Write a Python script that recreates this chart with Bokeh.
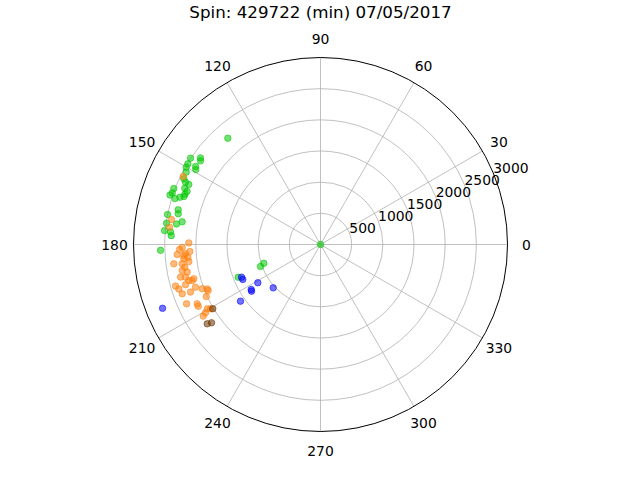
import numpy as np
from bokeh.plotting import figure
from bokeh.models import Range1d, Label
from bokeh.embed import file_html
from bokeh.resources import INLINE
from bokeh.core.properties import value

title = "Spin: 429722 (min) 07/05/2017"
angle_ticks = [0, 30, 60, 90, 120, 150, 180, 210, 240, 270, 300, 330]
radial_ticks = [500, 1000, 1500, 2000, 2500, 3000]
r_max = 3000

green_theta = [0, 131.1, 146.4, 144.2, 145.1, 148.7, 148.0, 149.0, 151.7, 150.1, 154.3, 155.2,
               155.5, 157.5, 158.3, 159.1, 160.8, 161.8, 162.5, 161.4, 160.6, 159.6, 166.3,
               167.8, 168.9, 170.7, 171.9, 172.1, 174.9, 175.2, 176.6, 182.1, 198.3, 200.1, 201.7]
green_r = [0, 2262, 2503, 2374, 2347, 2491, 2363, 2334, 2447, 2486, 2433, 2385,
           2322, 2357, 2304, 2519, 2518, 2541, 2448, 2378, 2321, 2320, 2350,
           2335, 2501, 2249, 2334, 2494, 2512, 2415, 2399, 2568, 958, 1025, 1421]

orange_theta = [153.7, 170.5, 173.5, 179.3, 182.0, 181.2, 183.1, 184.0, 183.9, 186.0, 187.4,
                187.5, 187.9, 189.5, 190.6, 191.7, 193.1, 193.6, 195.3, 195.7, 196.6, 196.0,
                198.9, 197.4, 200.5, 201.4, 200.1, 199.6, 204.5, 203.9, 205.7, 206.8, 209.6,
                210.3, 210.7, 211.4, 184.6, 185.5, 195.1, 202.3]
orange_r = [2458, 2423, 2438, 2113, 2263, 2219, 2100, 2305, 2171, 2205, 2130,
            2374, 2240, 2207, 2257, 2184, 2306, 2228, 2190, 2138, 2260, 2420,
            2119, 2382, 2026, 1952, 2221, 2355, 2014, 2350, 2195, 2197, 2090,
            2044, 2146, 2205, 2200, 2138, 2106, 1947]

blue_theta = [202.5, 204.2, 211.4, 213.0, 214.1, 222.5, 215.3, 202.0]
blue_r = [1371, 1367, 1178, 1325, 1336, 1029, 1573, 2733]

brown_theta = [210.8, 215.7, 215.0]
brown_r = [2012, 2153, 2219]

W, H = 624, 464
k = 187.0 / r_max          # pixels per data unit
cx, cy_top = 320, 244      # centre in figure pixels (from left / from top)

p = figure(width=W, height=H, output_backend="svg", toolbar_location=None,
           x_range=Range1d(-cx / k, (W - cx) / k),
           y_range=Range1d(-(H - cy_top) / k, cy_top / k),
           x_axis_location=None, y_axis_location=None, min_border=0)
p.grid.visible = False
p.outline_line_color = None
p.background_fill_color = "white"
p.border_fill_color = "white"

def xy(theta, r):
    t = np.deg2rad(np.asarray(theta, dtype=float))
    r = np.asarray(r, dtype=float)
    return r * np.cos(t), r * np.sin(t)

# spokes
ta = np.deg2rad(np.array(angle_ticks, dtype=float))
p.segment(x0=np.zeros(len(ta)), y0=np.zeros(len(ta)),
          x1=r_max * np.cos(ta), y1=r_max * np.sin(ta),
          line_color="#b0b0b0", line_width=0.8)
# rings
p.circle(x=np.zeros(len(radial_ticks) - 1), y=np.zeros(len(radial_ticks) - 1),
         radius=radial_ticks[:-1], fill_color=None, line_color="#b0b0b0", line_width=0.8)
p.circle(x=[0], y=[0], radius=[r_max], fill_color=None, line_color="black", line_width=1.0)

# points
for th, rr, col in [(green_theta, green_r, "#00c800"),
                    (orange_theta, orange_r, "#ff7f0e"),
                    (blue_theta, blue_r, "#0000ff"),
                    (brown_theta, brown_r, "#6b3200")]:
    x, y = xy(th, rr)
    p.scatter(x, y, size=6.5, fill_color=col, line_color=col,
              fill_alpha=0.55, line_alpha=0.55, line_width=1)

# angle labels
lab_r = 206.0 / k
lx, ly = xy(angle_ticks, [lab_r] * len(angle_ticks))
p.text(x=lx, y=ly, text=[str(a) for a in angle_ticks], text_align="center",
       text_baseline="middle", text_font=value("DejaVu Sans"), text_font_size="13.9px",
       text_color="black")

# radial labels
rx, ry = xy([22.5] * len(radial_ticks), radial_ticks)
p.text(x=rx, y=ry, text=[str(r) for r in radial_ticks], text_align="left",
       text_baseline="bottom", text_font=value("DejaVu Sans"), text_font_size="13.9px",
       text_color="black")

p.add_layout(Label(x=cx, y=H - 11, x_units="screen", y_units="screen", text=title,
                   text_align="center", text_baseline="alphabetic",
                   text_font="DejaVu Sans", text_font_size="16.7px", text_color="black"))

open("out.html", "w").write(file_html(p, INLINE))
